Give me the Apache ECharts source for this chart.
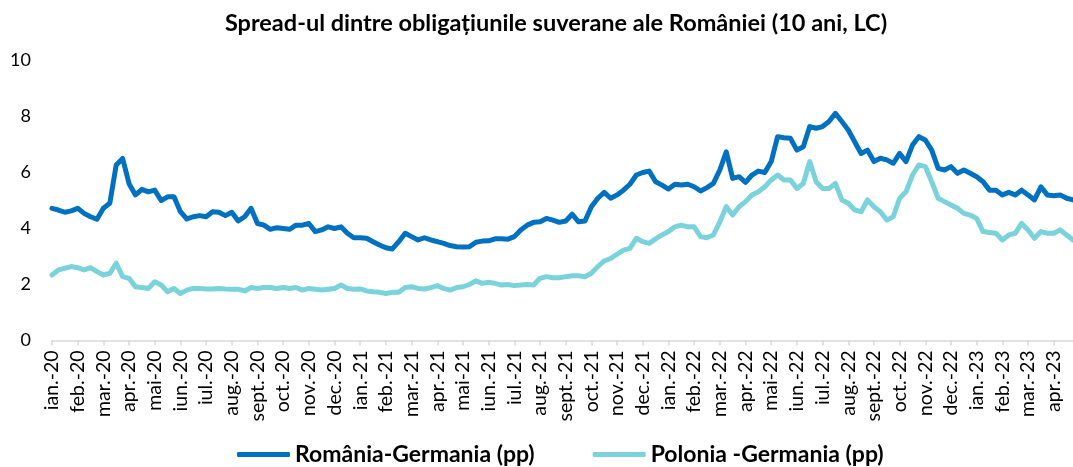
<!DOCTYPE html>
<html>
<head>
<meta charset="utf-8">
<script src="https://cdn.jsdelivr.net/npm/echarts@6/dist/echarts.min.js"></script>
<style>
  html, body { margin: 0; padding: 0; background: #fff; }
  #chart { width: 1073px; height: 467px; }
</style>
</head>
<body>
<div id="chart"></div>
<script>
// month labels on the x axis (one tick per month)
const months = [
  'ian.-20', 'feb.-20', 'mar.-20', 'apr.-20', 'mai-20', 'iun.-20', 'iul.-20', 'aug.-20', 'sept.-20', 'oct.-20', 'nov.-20', 'dec.-20',
  'ian.-21', 'feb.-21', 'mar.-21', 'apr.-21', 'mai-21', 'iun.-21', 'iul.-21', 'aug.-21', 'sept.-21', 'oct.-21', 'nov.-21', 'dec.-21',
  'ian.-22', 'feb.-22', 'mar.-22', 'apr.-22', 'mai-22', 'iun.-22', 'iul.-22', 'aug.-22', 'sept.-22', 'oct.-22', 'nov.-22', 'dec.-22',
  'ian.-23', 'feb.-23', 'mar.-23', 'apr.-23'
];

// readings every quarter of a month (about weekly), from jan 2020
const romania = [
  4.72, 4.66, 4.58, 4.63, 4.72, 4.54, 4.42, 4.33, 4.72, 4.90,
  6.27, 6.50, 5.60, 5.20, 5.40, 5.31, 5.37, 5.00, 5.13, 5.13,
  4.60, 4.34, 4.42, 4.46, 4.42, 4.60, 4.58, 4.46, 4.58, 4.27,
  4.42, 4.72, 4.18, 4.12, 3.97, 4.03, 4.00, 3.97, 4.12, 4.12,
  4.18, 3.89, 3.95, 4.06, 4.00, 4.06, 3.83, 3.67, 3.67, 3.65,
  3.53, 3.41, 3.31, 3.27, 3.53, 3.83, 3.71, 3.59, 3.67, 3.59,
  3.53, 3.47, 3.39, 3.35, 3.34, 3.35, 3.51, 3.55, 3.56, 3.63,
  3.63, 3.62, 3.71, 3.95, 4.12, 4.22, 4.24, 4.36, 4.30, 4.22,
  4.27, 4.51, 4.24, 4.27, 4.78, 5.08, 5.29, 5.08, 5.20, 5.37,
  5.58, 5.91, 6.00, 6.05, 5.67, 5.55, 5.41, 5.58, 5.55, 5.58,
  5.49, 5.34, 5.46, 5.61, 6.09, 6.74, 5.79, 5.85, 5.65, 5.91,
  6.05, 6.00, 6.39, 7.28, 7.24, 7.22, 6.80, 6.92, 7.64, 7.58,
  7.64, 7.82, 8.11, 7.82, 7.52, 7.10, 6.68, 6.80, 6.39, 6.51,
  6.45, 6.33, 6.68, 6.39, 6.98, 7.28, 7.16, 6.80, 6.15, 6.09,
  6.21, 5.97, 6.09, 5.97, 5.85, 5.67, 5.37, 5.37, 5.20, 5.29,
  5.20, 5.37, 5.20, 5.02, 5.49, 5.20, 5.17, 5.20, 5.08, 5.02
];

const polonia = [
  2.34, 2.52, 2.58, 2.64, 2.60, 2.52, 2.60, 2.46, 2.34, 2.40,
  2.76, 2.28, 2.22, 1.92, 1.89, 1.86, 2.10, 1.98, 1.74, 1.86,
  1.68, 1.80, 1.86, 1.86, 1.84, 1.84, 1.86, 1.84, 1.83, 1.83,
  1.77, 1.89, 1.86, 1.89, 1.89, 1.86, 1.89, 1.86, 1.89, 1.80,
  1.86, 1.83, 1.80, 1.83, 1.86, 1.98, 1.86, 1.83, 1.84, 1.77,
  1.74, 1.72, 1.68, 1.72, 1.72, 1.89, 1.92, 1.86, 1.84, 1.89,
  1.96, 1.86, 1.80, 1.89, 1.92, 2.00, 2.13, 2.04, 2.08, 2.04,
  1.98, 2.00, 1.96, 1.98, 2.00, 1.98, 2.22, 2.28, 2.24, 2.24,
  2.28, 2.31, 2.31, 2.28, 2.40, 2.64, 2.84, 2.93, 3.08, 3.23,
  3.29, 3.65, 3.53, 3.47, 3.63, 3.77, 3.89, 4.06, 4.12, 4.06,
  4.06, 3.71, 3.67, 3.77, 4.24, 4.78, 4.48, 4.78, 4.96, 5.20,
  5.31, 5.49, 5.73, 5.91, 5.73, 5.73, 5.43, 5.61, 6.39, 5.67,
  5.43, 5.43, 5.61, 5.02, 4.90, 4.66, 4.60, 5.02, 4.78, 4.60,
  4.30, 4.42, 5.08, 5.31, 5.91, 6.27, 6.21, 5.67, 5.08, 4.96,
  4.84, 4.72, 4.54, 4.48, 4.36, 3.89, 3.86, 3.83, 3.59, 3.77,
  3.83, 4.18, 3.95, 3.65, 3.89, 3.83, 3.83, 3.95, 3.77, 3.59
];

const seriesNames = ['România-Germania (pp)', 'Polonia -Germania (pp)'];
const colors = ['#0070C0', '#7AD3DB'];

const font = 'Lato, "Liberation Sans", sans-serif';
const toPoints = arr => arr.map((v, i) => [i / 4, v]);

const chart = echarts.init(document.getElementById('chart'));
chart.setOption({
  animation: false,
  textStyle: { fontFamily: font },
  title: {
    text: 'Spread-ul dintre obligațiunile suverane ale României (10 ani, LC)',
    left: 551,
    textAlign: 'center',
    top: 6,
    textStyle: { fontFamily: font, fontSize: 23.5, fontWeight: 'bold', color: '#000' }
  },
  legend: {
    top: 438,
    left: 232,
    icon: 'roundRect',
    itemWidth: 53,
    itemHeight: 5,
    itemGap: 58,
    textStyle: { fontFamily: font, fontSize: 23, fontWeight: 'bold', color: '#000' },
    data: seriesNames
  },
  grid: { left: 52, right: 0, top: 60.5, bottom: 126.5, containLabel: false },
  xAxis: {
    type: 'value',
    min: 0,
    max: 39.75,
    interval: 1,
    axisLine: { lineStyle: { color: '#d9d9d9', width: 1.5 } },
    axisTick: { show: true, length: 5, lineStyle: { color: '#d9d9d9', width: 1.5 } },
    splitLine: { show: false },
    axisLabel: {
      rotate: 90,
      margin: 10,
      fontSize: 19.5,
      color: '#000',
      showMaxLabel: false,
      formatter: v => months[v] || ''
    }
  },
  yAxis: {
    type: 'value',
    min: 0,
    max: 10,
    interval: 2,
    axisLine: { show: false },
    axisTick: { show: false },
    splitLine: { show: false },
    axisLabel: { fontSize: 18, color: '#000', margin: 21 }
  },
  series: [
    {
      name: seriesNames[0],
      type: 'line',
      data: toPoints(romania),
      showSymbol: false,
      color: colors[0],
      lineStyle: { width: 5, cap: 'round', join: 'round' }
    },
    {
      name: seriesNames[1],
      type: 'line',
      data: toPoints(polonia),
      showSymbol: false,
      color: colors[1],
      lineStyle: { width: 5, cap: 'round', join: 'round' }
    }
  ]
});
</script>
</body>
</html>
